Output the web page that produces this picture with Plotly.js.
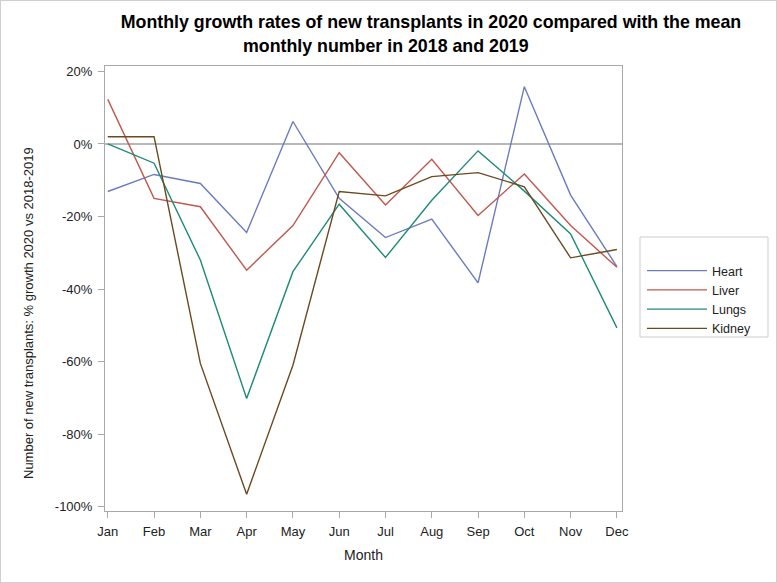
<!DOCTYPE html>
<html>
<head>
<meta charset="utf-8">
<script src="https://cdn.plot.ly/plotly-3.0.1.min.js"></script>
<style>
html,body{margin:0;padding:0;background:#fff;}
#wrap{position:relative;width:777px;height:583px;}
#chart{width:777px;height:583px;}
#frame{position:absolute;left:0;top:0;width:775px;height:581px;border:1px solid #cfcfcf;pointer-events:none;}
</style>
</head>
<body>
<div id="wrap"><div id="chart"></div><div id="frame"></div></div>
<script>
const months = ["Jan","Feb","Mar","Apr","May","Jun","Jul","Aug","Sep","Oct","Nov","Dec"];
const heart  = [-13.1, -8.4, -10.9, -24.4, 6.2, -15.0, -25.8, -20.7, -38.3, 15.8, -14.1, -33.8];
const liver  = [12.3, -15.0, -17.3, -34.8, -22.5, -2.4, -16.8, -4.2, -19.7, -8.3, -22.5, -34.0];
const lungs  = [0.0, -5.3, -32.0, -70.2, -35.2, -16.6, -31.3, -15.5, -1.9, -13.0, -24.8, -50.7];
const kidney = [2.0, 2.0, -60.5, -96.6, -61.0, -13.1, -14.3, -9.0, -7.9, -11.8, -31.4, -29.1];
const seriesNames = ["Heart","Liver","Lungs","Kidney"];
const seriesColors = ["#6C7BBF","#C0584E","#1F8A78","#6B4A20"];
const yTickVals = [20, 0, -20, -40, -60, -80, -100];
const yTickText = ["20%","0%","-20%","-40%","-60%","-80%","-100%"];

const allSeries = [heart, liver, lungs, kidney];
const traces = allSeries.map((vals, i) => ({
  type: "scatter",
  mode: "lines",
  name: seriesNames[i],
  x: months.map((m, k) => k),
  y: vals,
  line: {color: seriesColors[i], width: 1.4},
  hoverinfo: "x+y+name"
}));

const font = "Liberation Sans, Arial, sans-serif";
const layout = {
  width: 777, height: 583,
  paper_bgcolor: "#fff", plot_bgcolor: "#fff",
  margin: {l: 105, r: 155, t: 66, b: 72},
  showlegend: true,
  font: {family: font, size: 12, color: "#333"},
  title: {
    text: "Monthly growth rates of new transplants in 2020 compared with the mean",
    font: {family: font, size: 17.8, color: "#000", weight: "bold"},
    x: 431/777, xanchor: "center", y: 1 - 22/583, yanchor: "middle"
  },
  annotations: [
    {text: "monthly number in 2018 and 2019", xref: "paper", yref: "paper",
     x: (386-105)/517, y: (511-46)/445, xanchor: "center", yanchor: "middle",
     showarrow: false, font: {family: font, size: 17.8, color: "#000", weight: "bold"}},
    {text: "Number of new transplants: % growth 2020 vs 2018-2019", xref: "paper", yref: "paper",
     x: (28-105)/517, y: (511-313)/445, xanchor: "center", yanchor: "middle", textangle: -90,
     showarrow: false, font: {family: font, size: 13, color: "#222"}}
  ],
  xaxis: {
    range: [-0.06, 11.11],
    tickvals: months.map((m, k) => k),
    ticktext: months,
    ticks: "outside", ticklen: 6, tickcolor: "#a8a8a8", tickwidth: 1,
    ticklabelstandoff: 2,
    showgrid: false, zeroline: false,
    showline: true, linecolor: "#a8a8a8", linewidth: 1, mirror: true,
    tickfont: {family: font, size: 13, color: "#222"},
    title: {text: "Month", font: {family: font, size: 14, color: "#222"}, standoff: 12}
  },
  yaxis: {
    range: [-101.2, 21.5],
    tickvals: yTickVals,
    ticktext: yTickText,
    ticks: "outside", ticklen: 6, tickcolor: "#a8a8a8", tickwidth: 1,
    ticklabelstandoff: 3,
    showgrid: false,
    zeroline: true, zerolinecolor: "#b8b8b8", zerolinewidth: 2,
    showline: true, linecolor: "#a8a8a8", linewidth: 1, mirror: true,
    tickfont: {family: font, size: 13, color: "#222"}
  },
  shapes: [
    {type: "rect", xref: "paper", yref: "paper",
     x0: (640-105)/517, x1: (768-105)/517, y0: (511-337)/445, y1: (511-237)/445,
     line: {color: "#cccccc", width: 1}, fillcolor: "rgba(0,0,0,0)", layer: "below"}
  ],
  legend: {
    x: (642-105)/517, xanchor: "left", y: (511-256)/445, yanchor: "top",
    bgcolor: "rgba(0,0,0,0)", borderwidth: 0,
    font: {family: font, size: 12.5, color: "#222"},
    itemwidth: 60, tracegroupgap: 0
  }
};

Plotly.newPlot("chart", traces, layout, {displayModeBar: false, staticPlot: true});
</script>
</body>
</html>
